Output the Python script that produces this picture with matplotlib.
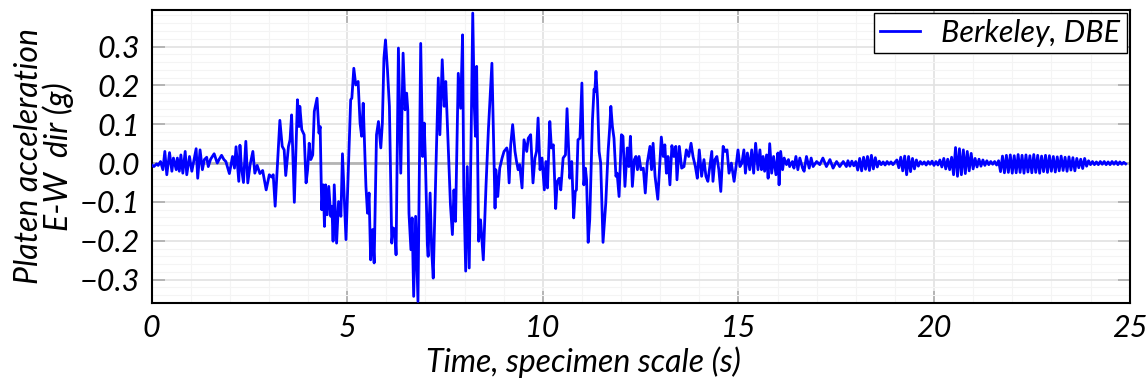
import numpy as np
import matplotlib
matplotlib.use('Agg')
import matplotlib.pyplot as plt
from matplotlib.ticker import MultipleLocator

# ground motion record (time s, accel g)
t_main = [0.00, 0.06, 0.13, 0.17, 0.23, 0.29, 0.34, 0.39, 0.46, 0.52, 0.56, 0.63, 0.66, 0.71, 0.75,
          0.80, 0.86, 0.90, 0.97, 1.03, 1.07, 1.14, 1.18, 1.24, 1.30, 1.35, 1.41, 1.45, 1.51, 1.60,
          1.68, 1.73, 1.79, 1.85, 1.90, 1.99, 2.07, 2.12, 2.16, 2.23, 2.26, 2.30, 2.35, 2.41, 2.46,
          2.52, 2.59, 2.64, 2.70, 2.77, 2.84, 2.93, 3.01, 3.07, 3.11, 3.16, 3.28, 3.34, 3.39, 3.43,
          3.50, 3.54, 3.58, 3.65, 3.73, 3.77, 3.79, 3.84, 3.90, 3.95, 3.99, 4.03, 4.07, 4.12, 4.16,
          4.23, 4.28, 4.31, 4.35, 4.39, 4.42, 4.45, 4.49, 4.53, 4.58, 4.61, 4.64, 4.67, 4.73, 4.78,
          4.84, 4.88, 4.97, 5.09, 5.12, 5.17, 5.22, 5.28, 5.33, 5.37, 5.41, 5.48, 5.52, 5.56, 5.60,
          5.65, 5.69, 5.75, 5.80, 5.86, 5.90, 5.94, 5.98, 6.03, 6.08, 6.14, 6.18, 6.22, 6.25, 6.31,
          6.37, 6.43, 6.48, 6.52, 6.55, 6.58, 6.63, 6.66, 6.70, 6.75, 6.81, 6.88, 6.93, 6.97, 7.00,
          7.05, 7.07, 7.12, 7.16, 7.20, 7.27, 7.33, 7.37, 7.43, 7.48, 7.52, 7.58, 7.64, 7.69, 7.73,
          7.77, 7.84, 7.90, 7.95, 7.98, 8.03, 8.07, 8.12, 8.17, 8.21, 8.25, 8.28, 8.31, 8.36, 8.41,
          8.48, 8.55, 8.61, 8.70, 8.78, 8.80, 8.85, 8.90, 8.96, 9.01, 9.08, 9.10, 9.14, 9.18, 9.23,
          9.29, 9.33, 9.37, 9.41, 9.47, 9.52, 9.59, 9.63, 9.69, 9.75, 9.80, 9.84, 9.88, 9.93, 9.98,
          10.04, 10.08, 10.12, 10.18, 10.22, 10.27, 10.33, 10.37, 10.42, 10.46, 10.52, 10.58, 10.62,
          10.69, 10.74, 10.79, 10.83, 10.86, 10.90, 10.95, 11.00, 11.05, 11.09, 11.12, 11.16, 11.20,
          11.27, 11.31, 11.33, 11.36, 11.40, 11.44, 11.48, 11.52, 11.54, 11.61, 11.67, 11.71, 11.74,
          11.78, 11.82, 11.87, 11.90, 11.95, 12.01, 12.05, 12.10, 12.16, 12.20, 12.24, 12.29, 12.34,
          12.38, 12.42, 12.46, 12.51, 12.57, 12.62, 12.67, 12.74, 12.78, 12.82, 12.87, 12.94, 13.03,
          13.08, 13.12, 13.16, 13.20, 13.25, 13.30, 13.35, 13.40, 13.43, 13.49, 13.55, 13.61, 13.67,
          13.73, 13.79, 13.84, 13.90, 13.95, 14.00, 14.06, 14.12, 14.17, 14.22, 14.27, 14.32, 14.35,
          14.40, 14.45, 14.50, 14.55, 14.61, 14.66, 14.71, 14.76, 14.82, 14.89, 14.95, 14.99, 15.04,
          15.09, 15.14, 15.18, 15.23, 15.29, 15.34, 15.39, 15.44, 15.50, 15.55, 15.59, 15.63, 15.67,
          15.72, 15.76, 15.80, 15.85, 15.90, 15.96, 16.01, 16.04, 16.08, 16.13, 16.17, 16.23, 16.28,
          16.31, 16.38, 16.42, 16.47, 16.52, 16.57, 16.64, 16.68, 16.74, 16.81, 16.86, 16.91, 17.00,
          17.08, 17.16, 17.25, 17.34, 17.42, 17.51, 17.59, 17.68, 17.76]
g_main = [-0.004, -0.009, -0.002, -0.006, 0.004, -0.017, 0.030, -0.030, 0.027, -0.021, 0.013, -0.017,
          0.013, -0.021, 0.021, -0.026, 0.030, -0.030, 0.017, -0.021, 0.000, 0.037, -0.039, 0.034,
          -0.017, 0.009, 0.015, -0.009, 0.010, 0.024, 0.000, 0.010, 0.020, 0.009, 0.004, -0.027,
          0.017, -0.013, 0.042, -0.047, 0.046, -0.013, -0.050, 0.056, -0.051, -0.004, 0.030, -0.026,
          -0.006, -0.027, -0.019, -0.069, -0.030, -0.036, -0.030, -0.111, 0.110, 0.043, 0.034, -0.032,
          0.043, 0.060, 0.124, -0.101, 0.163, 0.094, 0.146, 0.086, 0.073, -0.051, -0.017, 0.051,
          0.009, 0.021, 0.133, 0.167, 0.077, 0.094, -0.120, -0.056, -0.163, -0.056, -0.133, -0.060,
          -0.137, -0.111, -0.201, -0.056, -0.206, -0.099, -0.137, 0.024, -0.197, 0.163, 0.167, 0.244,
          0.201, 0.210, 0.103, 0.069, 0.154, -0.060, -0.129, -0.077, -0.249, -0.171, -0.257, 0.073,
          0.107, 0.039, 0.103, 0.270, 0.317, 0.240, 0.146, -0.206, -0.167, -0.171, -0.236, 0.296,
          -0.026, 0.283, 0.137, 0.180, 0.137, -0.129, -0.223, -0.141, -0.343, -0.137, -0.356, 0.308,
          0.017, 0.103, 0.009, -0.210, -0.240, -0.077, -0.223, -0.296, -0.009, 0.219, 0.073, 0.266,
          0.146, 0.210, 0.051, -0.107, -0.184, -0.069, -0.150, 0.231, 0.141, 0.330, -0.060, -0.278,
          -0.009, -0.270, 0.077, 0.386, 0.146, 0.069, 0.249, -0.201, -0.146, -0.249, -0.056, 0.086,
          0.257, -0.116, -0.017, -0.086, -0.013, 0.013, 0.030, 0.039, 0.030, -0.051, 0.047, 0.099,
          0.030, 0.004, -0.017, -0.004, -0.064, 0.060, 0.030, 0.064, 0.073, -0.051, 0.013, 0.030,
          0.116, -0.017, 0.013, -0.069, 0.004, -0.064, 0.107, 0.039, 0.047, -0.117, -0.047, -0.039,
          -0.069, 0.013, 0.021, 0.140, -0.039, 0.004, -0.141, -0.073, -0.069, 0.060, 0.064, 0.206,
          -0.056, -0.013, -0.043, -0.204, -0.146, 0.111, 0.190, 0.184, 0.236, 0.163, 0.030, 0.000,
          -0.137, -0.204, -0.103, 0.030, 0.090, 0.146, 0.094, 0.064, -0.034, -0.026, -0.086, 0.073,
          0.069, -0.060, 0.039, -0.009, 0.069, -0.060, 0.009, 0.017, -0.017, 0.017, -0.017, -0.013,
          -0.077, 0.000, 0.043, -0.017, 0.051, -0.034, -0.093, 0.067, 0.017, 0.047, -0.026, 0.017,
          -0.056, 0.045, 0.017, 0.043, -0.043, 0.043, -0.013, -0.009, 0.034, 0.017, 0.051, 0.017,
          -0.009, -0.039, 0.034, -0.034, 0.009, -0.034, -0.047, -0.009, 0.030, -0.047, 0.009, 0.017,
          -0.017, -0.073, 0.043, 0.030, 0.034, -0.026, 0.000, -0.047, 0.000, 0.034, -0.009, 0.000,
          0.034, -0.026, 0.026, -0.017, 0.034, -0.026, 0.051, -0.017, 0.034, -0.017, 0.017, -0.021,
          0.021, -0.039, 0.050, -0.026, 0.017, -0.030, 0.026, -0.056, 0.030, -0.017, 0.013, -0.004,
          0.009, -0.009, 0.004, -0.013, 0.017, -0.017, 0.013, -0.013, -0.021, 0.017, -0.013, 0.013,
          -0.009, 0.004, -0.004, 0.013, -0.009, 0.009, -0.013, 0.004, -0.009, 0.004, -0.009]

# later, low-amplitude part of the record: sampled every 0.05 s from 17.80 s
tail_start, tail_dt = 17.80, 0.05
g_tail = [0.006, -0.008, 0.005, -0.007, 0.004,
          -0.018, 0.012, -0.020, 0.015, -0.016, 0.017, -0.019, 0.020, -0.015, 0.014, -0.010,
          0.005, -0.004, 0.003, -0.005, 0.004, -0.003, 0.003, -0.004, 0.002,
          0.008, -0.012, 0.015, -0.020, 0.018, -0.030, 0.017, -0.022, 0.012, -0.015, 0.008, -0.008,
          0.004, -0.003, 0.003, -0.005, 0.004, -0.003, 0.005, -0.006, 0.004, -0.005,
          0.008, -0.010, 0.012, -0.015, 0.010, -0.017, 0.015,
          -0.030, 0.040, -0.034, 0.037, -0.030, 0.034, -0.027, 0.030, -0.020, 0.025, -0.015, 0.012,
          -0.010, 0.010, -0.008, 0.008, -0.006, 0.006, -0.004, 0.004, -0.003, 0.004, -0.005, 0.006,
          -0.022, 0.018, -0.025, 0.020, -0.024, 0.021, -0.026, 0.019, -0.025, 0.022,
          -0.024, 0.020, -0.026, 0.021, -0.023, 0.019, -0.025, 0.022, -0.024, 0.020,
          -0.026, 0.018, -0.022, 0.020, -0.024, 0.019, -0.021, 0.017, -0.023, 0.016,
          -0.020, 0.018, -0.019, 0.015, -0.021, 0.016, -0.018, 0.014, -0.020, 0.012,
          -0.012, 0.010, -0.014, 0.012, -0.008, 0.006, -0.004, 0.004,
          -0.004, 0.003, -0.004, 0.004, -0.003, 0.004, -0.004, 0.003, -0.004, 0.004,
          -0.003, 0.004, -0.004, 0.003, -0.003, 0.002, -0.002]

t_tail = tail_start + tail_dt * np.arange(len(g_tail))
t = np.concatenate([t_main, t_tail])
g = np.concatenate([g_main, g_tail])

plt.rcParams['font.family'] = ['Lato', 'DejaVu Sans']
plt.rcParams['font.style'] = 'italic'

fig = plt.figure(figsize=(11.48, 3.84), dpi=100)
ax = fig.add_axes([0.132, 0.211, 0.852, 0.763])

ax.plot(t, g, color='#0000ff', lw=2.0, label='Berkeley, DBE', zorder=3)
ax.axhline(0, color='#b4b4b4', lw=2, zorder=2)

ax.set_xlim(0, 25)
ax.set_ylim(-0.36, 0.394)
ax.xaxis.set_major_locator(MultipleLocator(5))
ax.xaxis.set_minor_locator(MultipleLocator(1))
ax.yaxis.set_major_locator(MultipleLocator(0.1))
ax.yaxis.set_minor_locator(MultipleLocator(0.02))

ax.set_axisbelow(True)
ax.grid(which='major', color='#e2e2e2', lw=1.2)
ax.grid(which='minor', color='#f4f4f4', lw=0.8)
ax.tick_params(which='major', direction='in', length=9, width=1.3, color='#b0b0b0',
               top=True, right=True, labelsize=22, pad=8)
ax.tick_params(which='minor', length=0)
for s in ax.spines.values():
    s.set_linewidth(1.5)

ax.set_xlabel('Time, specimen scale (s)', fontsize=23, labelpad=3, x=0.442)
ax.set_ylabel('Platen acceleration\nE-W  dir (g)', fontsize=23, labelpad=4, linespacing=0.95)

leg = ax.legend(loc='upper right', fancybox=False, framealpha=1, edgecolor='black',
                borderaxespad=0.1, handlelength=1.3, handletextpad=0.7,
                borderpad=0.2, fontsize=22)
leg.get_frame().set_linewidth(1.0)

plt.savefig('out.png', dpi=100)
